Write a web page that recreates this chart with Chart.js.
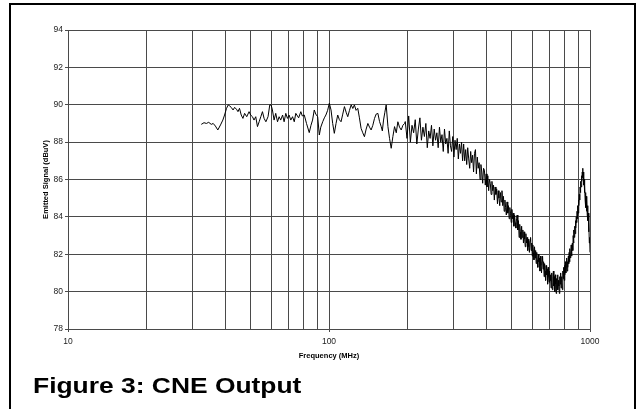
<!DOCTYPE html>
<html>
<head>
<meta charset="utf-8">
<script src="https://cdn.jsdelivr.net/npm/chart.js@4/dist/chart.umd.min.js"></script>
<style>
  html,body{margin:0;padding:0;background:#fff;}
  #marco{position:absolute;left:9px;top:3px;width:623px;height:430px;border:2px solid #000;}
  #grafica{position:absolute;left:0;top:0;width:636px;height:409px;}
  #pie{position:absolute;left:33px;top:375px;font:bold 22px "Liberation Sans",Arial,sans-serif;line-height:22px;color:#000;white-space:nowrap;transform-origin:0 0;transform:scaleX(1.2);}
</style>
</head>
<body>
<div id="marco"></div>
<div id="grafica"><canvas id="bar-chart" width="636" height="409"></canvas></div>
<div id="pie">Figure 3: CNE Output</div>
<script>
// barrido bajo 32 - 195 MHz
var freqBaja=[32.4,33.2,33.9,34.6,35.4,36.0,36.7,37.5,38.4,39.2,39.8,40.5,41.1,41.7,42.2,42.9,43.5,44.2,44.8,45.4,46.1,46.8,47.5,48.4,49.4,50.1,50.9,51.6,52.4,53.2,54.0,54.8,55.6,56.4,57.3,58.4,59.3,60.0,60.7,61.6,62.5,63.5,64.4,65.3,66.4,67.3,68.3,69.3,70.3,71.4,72.5,73.6,74.6,76.5,78.0,79.0,80.4,82.0,84.0,85.3,86.5,87.8,89.0,90.5,91.8,93.0,94.6,96.0,97.3,98.8,100.3,101.8,103.3,104.8,106.4,108.0,109.6,111.2,112.9,114.6,116.3,118.0,119.8,121.6,123.4,125.1,127.0,128.9,130.8,132.7,134.7,136.7,138.8,140.9,143.0,145.0,147.2,149.4,151.6,153.9,156.2,158.5,160.1,161.8,163.7,165.6,168.2,170.6,173.1,175.7,178.3,181.0,183.6,186.3,189.1,191.9,194.8];
var nivelBaja=[88.95,89.04,89.0,89.06,88.95,89.0,88.86,88.65,88.92,89.18,89.45,89.81,89.99,89.93,89.86,89.72,89.86,89.76,89.63,89.81,89.45,89.27,89.54,89.36,89.63,89.45,89.36,89.18,89.36,88.83,89.09,89.36,89.63,89.27,89.09,89.36,89.99,89.99,89.72,89.18,89.54,89.09,89.36,89.18,89.45,89.09,89.54,89.27,89.45,89.18,89.36,89.09,89.54,89.3,89.63,89.4,89.45,89.0,88.51,88.9,89.18,89.72,89.5,89.36,88.38,88.8,89.09,89.3,89.45,89.7,90.08,89.72,89.0,88.47,89.0,89.45,89.2,89.09,89.5,89.9,89.6,89.36,89.7,89.99,89.8,89.99,89.7,89.81,89.3,88.74,88.5,88.29,88.7,89.0,88.8,88.65,88.9,89.27,89.5,89.54,89.1,88.83,88.6,89.18,89.6,89.99,88.83,88.2,87.67,88.3,88.83,88.5,89.09,88.8,88.65,88.9,89.0];

// barrido alto 196 - 1000 MHz
var freqAlta=[196,199,202,205,208,211,214,217,220,223,226,229,232,235,238,241,244,247,250,253,256,259,
262,265,268,271,274,277,280,283,286,289,292,295,298,301,304,307,310,313,316,319,322,325,
328,331,334,337,340,343,346,349,352,355,358,361,364,367,370,373,376,379,382,385,388,391,
394,397,400,403,406,409,412,415,418,421,424,427,430,433,436,439,442,445,448,451,454,457,
460,463,466,469,472,475,478,481,484,487,490,493,496,499,502,505,508,511,514,517,520,523,
526,529,532,535,538,541,544,547,550,553,556,559,562,565,568,571,574,577,580,583,586,589,
592,595,598,601,604,607,610,613,616,619,622,625,628,631,634,637,640,643,646,649,652,655,
658,661,664,667,670,673,676,679,682,685,688,691,694,697,700,703,706,709,712,715,718,721,
724,727,730,733,736,739,742,745,748,751,754,757,760,763,766,769,772,775,778,781,784,787,
790,793,796,799,802,805,808,811,814,817,820,823,826,829,832,835,838,841,844,847,850,853,
856,859,862,865,868,871,874,877,880,883,886,889,892,895,898,901,904,907,910,913,916,919,
922,925,928,931,934,937,940,943,946,949,952,955,958,961,964,967,970,973,976,979,982,985,
988,991,994,997,1000];
var nivelAlta=[89.1,88.2,89.4,88.0,88.9,88.5,89.2,87.9,88.7,89.3,88.1,88.8,88.3,89.0,87.7,88.6,88.2,88.9,87.8,88.7,88.1,88.5,
87.7,88.8,88.0,88.4,87.5,88.7,87.9,88.2,87.4,88.6,87.8,87.5,88.3,87.2,88.1,87.6,88.2,87.1,87.9,87.4,88.0,87.0,
87.9,87.0,87.6,86.8,87.7,87.1,86.6,87.5,86.9,87.3,86.4,87.4,87.6,86.3,87.2,86.6,86.9,86.0,86.8,86.4,85.8,86.6,
86.5,85.7,86.3,85.6,86.2,85.4,86.0,85.8,85.2,85.9,85.4,85.7,84.9,85.6,85.2,85.5,84.7,85.4,85.0,84.6,85.3,84.8,
85.4,84.6,85.1,84.3,84.9,84.5,84.1,84.8,84.2,84.6,83.9,84.5,84.2,83.7,84.4,83.9,84.2,83.5,84.1,83.7,83.4,83.9,
84.1,83.3,83.8,82.9,83.6,83.2,82.8,83.5,82.9,83.3,82.6,83.2,82.8,82.4,83.1,82.6,82.9,82.2,82.8,82.4,82.1,82.7,
82.9,82.2,82.6,81.9,82.5,82.1,81.7,82.4,81.8,82.2,81.5,82.1,81.7,81.3,82.0,81.6,81.8,81.1,81.9,81.4,81.0,81.6,
81.9,81.2,81.6,80.8,81.5,81.1,80.6,81.4,80.9,81.2,80.4,81.3,80.8,80.5,81.1,80.6,80.9,80.2,81.0,80.5,80.1,80.8,
81.1,80.3,80.8,80.0,80.9,80.4,79.9,80.7,80.2,80.9,80.1,80.6,80.3,79.9,80.8,80.4,81.0,80.2,80.8,80.5,80.1,81.1,
80.7,81.3,80.6,81.4,80.9,81.6,81.0,81.3,81.8,81.1,81.6,81.3,81.9,81.5,82.1,81.6,82.3,81.8,82.0,82.5,81.9,82.3,
82.6,82.2,83.0,82.6,83.3,82.9,83.5,83.1,83.8,83.4,84.0,83.7,84.3,83.9,84.6,84.2,84.9,84.6,85.2,84.9,85.6,85.3,
85.9,85.6,86.2,85.9,86.4,86.6,86.1,86.4,85.7,86.0,85.3,85.7,84.9,85.3,84.5,85.1,84.3,84.9,84.1,84.6,83.8,84.2,
83.2,83.7,82.6,82.9,82.1];

// rejilla del eje X (log) y etiquetas
var lineasX=[10,20,30,40,50,60,70,80,90,100,200,300,400,500,600,700,800,900,1000];
var etiquetasX=[10,100,1000];
var minY=78, maxY=94, pasoY=2;

var fuente='"Liberation Sans", Arial, sans-serif';
var gris='#4a4a4a';

function armarPuntos(){
	var pts=[];
	var i;
	for(i=0;i<freqBaja.length;i++) pts.push({x:freqBaja[i],y:nivelBaja[i]});
	for(i=0;i<freqAlta.length;i++) pts.push({x:freqAlta[i],y:nivelAlta[i]});
	return pts;
}

var grafica=new Chart(document.getElementById("bar-chart"), {
	type: 'line',
	data: {
		datasets: [{
			data: armarPuntos(),
			borderColor: '#000',
			borderWidth: 1,
			pointRadius: 0,
			tension: 0,
			fill: false
		}]
	},
	options: {
		responsive: false,
		animation: false,
		layout: { padding: { left: 0, top: 30, right: 46, bottom: 0 } },
		plugins: { legend: { display: false }, tooltip: { enabled: false } },
		scales: {
			x: {
				type: 'logarithmic',
				min: 10, max: 1000,
				afterBuildTicks: function(s){ s.ticks=lineasX.map(function(v){ return {value:v}; }); },
				afterFit: function(s){ s.height=80; },
				grid: { color: gris, lineWidth: 1, drawTicks: true, tickLength: 3,
					tickColor: function(c){ return etiquetasX.indexOf(c.tick.value)>=0 ? gris : 'rgba(0,0,0,0)'; } },
				border: { color: gris },
				ticks: {
					autoSkip: false, maxRotation: 0, padding: 5,
					color: '#222', font: { family: fuente, size: 8.5 },
					callback: function(v){ return etiquetasX.indexOf(v)>=0 ? String(v) : ''; }
				},
				title: { display: true, text: 'Frequency (MHz)', color: '#000',
					font: { family: fuente, size: 7.5, weight: 'bold' }, padding: { top: 0, bottom: 49 } }
			},
			y: {
				min: minY, max: maxY,
				afterFit: function(s){ s.width=68; },
				grid: { color: gris, lineWidth: 1, tickLength: 3 },
				border: { color: gris },
				ticks: { stepSize: pasoY, padding: 2, color: '#222', font: { family: fuente, size: 8.5 } },
				title: { display: true, text: 'Emitted Signal (dBuV)', color: '#000',
					font: { family: fuente, size: 7.5, weight: 'bold' }, padding: { top: 41, bottom: 0 } }
			}
		}
	}
});
</script>
</body>
</html>
